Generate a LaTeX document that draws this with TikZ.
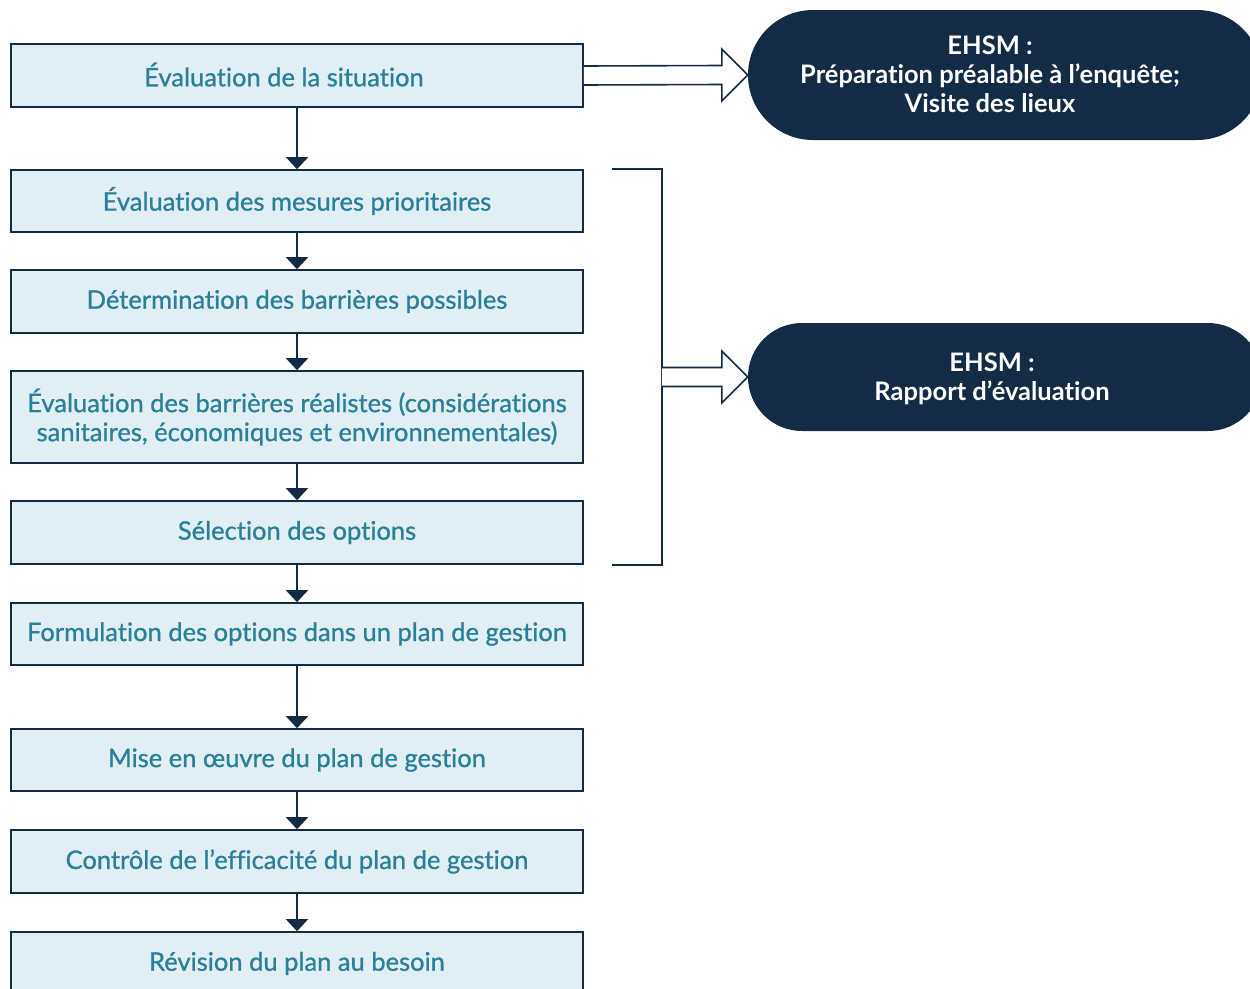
\documentclass[tikz,border=0pt]{standalone}
\usepackage{fontspec}
\setmainfont[Ligatures=NoCommon]{Lato}
\newfontfamily\medfont[FakeBold=0.9,Ligatures=NoCommon]{Lato}
\usetikzlibrary{arrows.meta,calc}
\definecolor{navy}{HTML}{132B45}
\definecolor{boxfill}{HTML}{E1EFF4}
\definecolor{teal}{HTML}{2A7F99}
\tikzset{
  stepbox/.style={draw=navy, line width=1.6pt, fill=boxfill, minimum width=572pt, inner sep=0pt,
    text=teal, align=center, font=\medfont\fontsize{25.5}{29}\selectfont},
  pill/.style={fill=navy, minimum width=514pt, inner sep=0pt},
  pilltext/.style={text=white, align=center, inner sep=0pt, font=\bfseries\fontsize{25.5}{29}\selectfont},
  flow/.style={draw=navy, line width=1.6pt, -{Triangle[width=22pt,length=12pt]}},
  hollow/.style={draw=navy, line width=1.6pt, fill=white, line join=miter},
}
\begin{document}
\begin{tikzpicture}[x=1pt,y=-1pt]
\useasboundingbox (0,0) rectangle (1250,988);
\node[stepbox, minimum height=63pt] (b1) at (297,75.5) {\hspace*{-26pt}\raisebox{2pt}{Évaluation de la situation}};
\node[stepbox, minimum height=62pt] (b2) at (297,201) {Évaluation des mesures prioritaires};
\node[stepbox, minimum height=63pt] (b3) at (297,301.5) {Détermination des barrières possibles};
\node[stepbox, minimum height=92pt] (b4) at (297,417) {Évaluation des barrières réalistes (considérations\\sanitaires, économiques et environnementales)};
\node[stepbox, minimum height=63pt] (b5) at (297,532.5) {Sélection des options};
\node[stepbox, minimum height=62pt] (b6) at (297,634) {Formulation des options dans un plan de gestion};
\node[stepbox, minimum height=62pt] (b7) at (297,760) {Mise en œuvre du plan de gestion};
\node[stepbox, minimum height=63pt] (b8) at (297,861.5) {Contrôle de l’efficacité du plan de gestion};
\node[stepbox, minimum height=63pt] (b9) at (297,963.5) {Révision du plan au besoin};

\foreach \a/\b in {b1/b2,b2/b3,b3/b4,b4/b5,b5/b6,b6/b7,b7/b8,b8/b9}
  \draw[flow] (\a.south) -- (\b.north);

\node[pill, minimum height=130pt, rounded corners=65pt] (p1) at (1005,75) {};
\node[pilltext] (t1) at (990,74) {EHSM :\\Préparation préalable à l’enquête;\\Visite des lieux};
\node[pill, minimum height=108pt, rounded corners=54pt] (p2) at (1005,377) {};
\node[pilltext] (t2) at (992,378.5) {EHSM :\\Rapport d’évaluation};

% bracket
\coordinate (k1) at ($(b2.north east)+(28,0)$);
\coordinate (k2) at ($(b2.north east)+(78,0)$);
\coordinate (k3) at ($(b5.south east)+(78,0)$);
\coordinate (k4) at ($(b5.south east)+(28,0)$);
\draw[navy, line width=1.6pt] (k1) -- (k2) -- (k3) -- (k4);

% hollow arrow top
\draw[hollow] ($(b1.east)+(0,-9.5)$) -- ($(p1.west)+(-26,-9.5)$) -- ($(p1.west)+(-26,-26)$) -- (p1.west)
  -- ($(p1.west)+(-26,26)$) -- ($(p1.west)+(-26,9.5)$) -- ($(b1.east)+(0,9.5)$);
% hollow arrow from bracket
\coordinate (kb) at (k2|-p2.west);
\draw[hollow] ($(kb)+(0,-9.5)$) -- ($(p2.west)+(-26,-9.5)$) -- ($(p2.west)+(-26,-26)$) -- (p2.west)
  -- ($(p2.west)+(-26,26)$) -- ($(p2.west)+(-26,9.5)$) -- ($(kb)+(0,9.5)$);
\end{tikzpicture}
\end{document}
